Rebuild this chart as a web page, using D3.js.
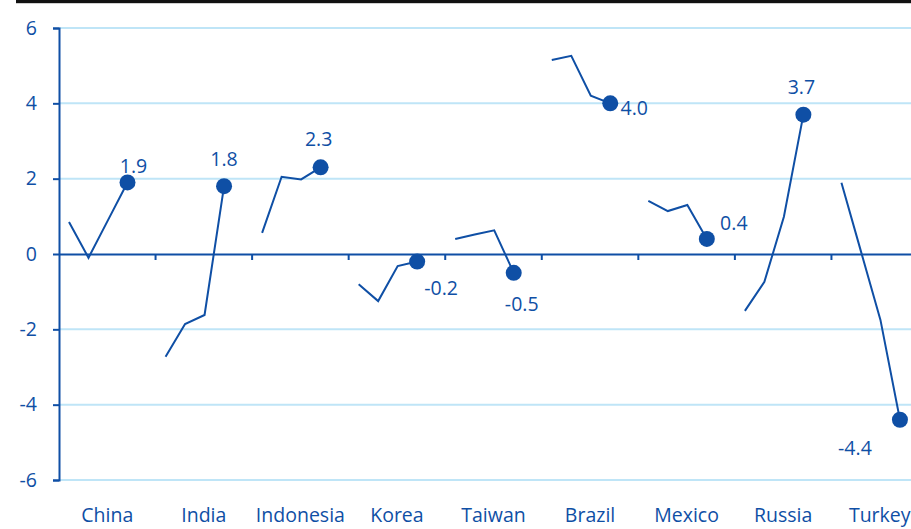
<!DOCTYPE html>
<html>
<head>
<meta charset="utf-8">
<script src="https://cdn.jsdelivr.net/npm/d3@7"></script>
<style>
  html, body { margin: 0; padding: 0; background: #fff; }
  svg { display: block; }
  text { font-family: "Open Sans", "Noto Sans", sans-serif; font-weight: 500; }
</style>
</head>
<body>
<svg id="chart" width="911" height="529"></svg>
<script>
// Economies shown along the horizontal axis
const categories = ["China", "India", "Indonesia", "Korea", "Taiwan", "Brazil", "Mexico", "Russia", "Turkey"];
// Four consecutive readings per economy; the last one is highlighted
const periods = ["t1", "t2", "t3", "t4"];
const chinaValues     = [0.85, -0.1, 0.9, 1.9];
const indiaValues     = [-2.73, -1.86, -1.62, 1.8];
const indonesiaValues = [0.56, 2.05, 1.98, 2.3];
const koreaValues     = [-0.8, -1.25, -0.32, -0.2];
const taiwanValues    = [0.4, 0.52, 0.63, -0.5];
const brazilValues    = [5.15, 5.26, 4.2, 4.0];
const mexicoValues    = [1.41, 1.14, 1.3, 0.4];
const russiaValues    = [-1.51, -0.74, 0.99, 3.7];
const turkeyValues    = [1.89, 0.07, -1.75, -4.4];
const yTicks = [-6, -4, -2, 0, 2, 4, 6];

const seriesValues = [chinaValues, indiaValues, indonesiaValues, koreaValues, taiwanValues,
                      brazilValues, mexicoValues, russiaValues, turkeyValues];
const rows = categories.map((c, i) => ({ name: c, values: seriesValues[i] }));

const blue = "#0f4fa5";
const grid = "#bfe5f7";
const hyphen = s => s.replace("\u2212", "-");

const svg = d3.select("#chart");

const x = d3.scaleBand().domain(categories).range([59, 928]).padding(0);
const inner = d3.scalePoint().domain(periods).range([10, 68.5]);
const y = d3.scaleLinear().domain([-6, 6]).range([480, 28]);

// top rule
svg.append("rect").attr("x", 16).attr("y", 0).attr("width", 911 - 16).attr("height", 3.2).attr("fill", "#111");

// horizontal gridlines
svg.append("g").selectAll("line")
  .data(yTicks.filter(t => t !== 0))
  .join("line")
  .attr("x1", 59).attr("x2", 911)
  .attr("y1", d => y(d)).attr("y2", d => y(d))
  .attr("stroke", grid).attr("stroke-width", 2);

// y axis
const yAxis = svg.append("g")
  .attr("transform", "translate(59,0)")
  .call(d3.axisLeft(y).tickValues(yTicks).tickSize(6).tickPadding(16)
    .tickFormat(d => hyphen(d3.format("d")(d))));
yAxis.attr("font-family", null).attr("font-size", null);
yAxis.select(".domain").attr("stroke", blue).attr("stroke-width", 2);
yAxis.selectAll(".tick line").attr("stroke", blue).attr("stroke-width", 2);
yAxis.selectAll(".tick text").attr("fill", blue).attr("font-size", 19.5);

// zero line with category separators
const xAxis = svg.append("g")
  .attr("transform", `translate(0,${y(0)})`)
  .call(d3.axisBottom(x).tickSize(0).tickFormat(""));
xAxis.select(".domain").attr("stroke", blue).attr("stroke-width", 2.2);
xAxis.selectAll(".tick").remove();
svg.append("g").selectAll("line")
  .data(categories.slice(1))
  .join("line")
  .attr("x1", d => x(d)).attr("x2", d => x(d))
  .attr("y1", y(0)).attr("y2", y(0) + 6)
  .attr("stroke", blue).attr("stroke-width", 2);

// category labels
svg.append("g").selectAll("text")
  .data(categories)
  .join("text")
  .attr("x", d => x(d) + x.bandwidth() / 2)
  .attr("y", 522)
  .attr("text-anchor", "middle")
  .attr("fill", blue)
  .attr("font-size", 19.5)
  .text(d => d);

// per-economy lines
const line = d3.line()
  .x((v, i) => inner(periods[i]))
  .y(v => y(v));

const groups = svg.append("g").selectAll("g")
  .data(rows)
  .join("g")
  .attr("transform", d => `translate(${x(d.name)},0)`);

groups.append("path")
  .attr("d", d => line(d.values))
  .attr("fill", "none")
  .attr("stroke", blue)
  .attr("stroke-width", 2);

groups.append("circle")
  .attr("cx", inner(periods[periods.length - 1]))
  .attr("cy", d => y(d.values[d.values.length - 1]))
  .attr("r", 8)
  .attr("fill", blue);

// value label placement around the final point
const labelOffset = {
  China: [6, -9], India: [0, -20], Indonesia: [-2, -21], Korea: [24, 33],
  Taiwan: [8, 38], Brazil: [24, 12], Mexico: [27, -9], Russia: [-2, -21], Turkey: [-45, 35]
};

groups.append("text")
  .attr("x", d => inner(periods[periods.length - 1]) + labelOffset[d.name][0])
  .attr("y", d => y(d.values[d.values.length - 1]) + labelOffset[d.name][1])
  .attr("text-anchor", "middle")
  .attr("fill", blue)
  .attr("font-size", 19.5)
  .text(d => hyphen(d3.format(".1f")(d.values[d.values.length - 1])));
</script>
</body>
</html>
